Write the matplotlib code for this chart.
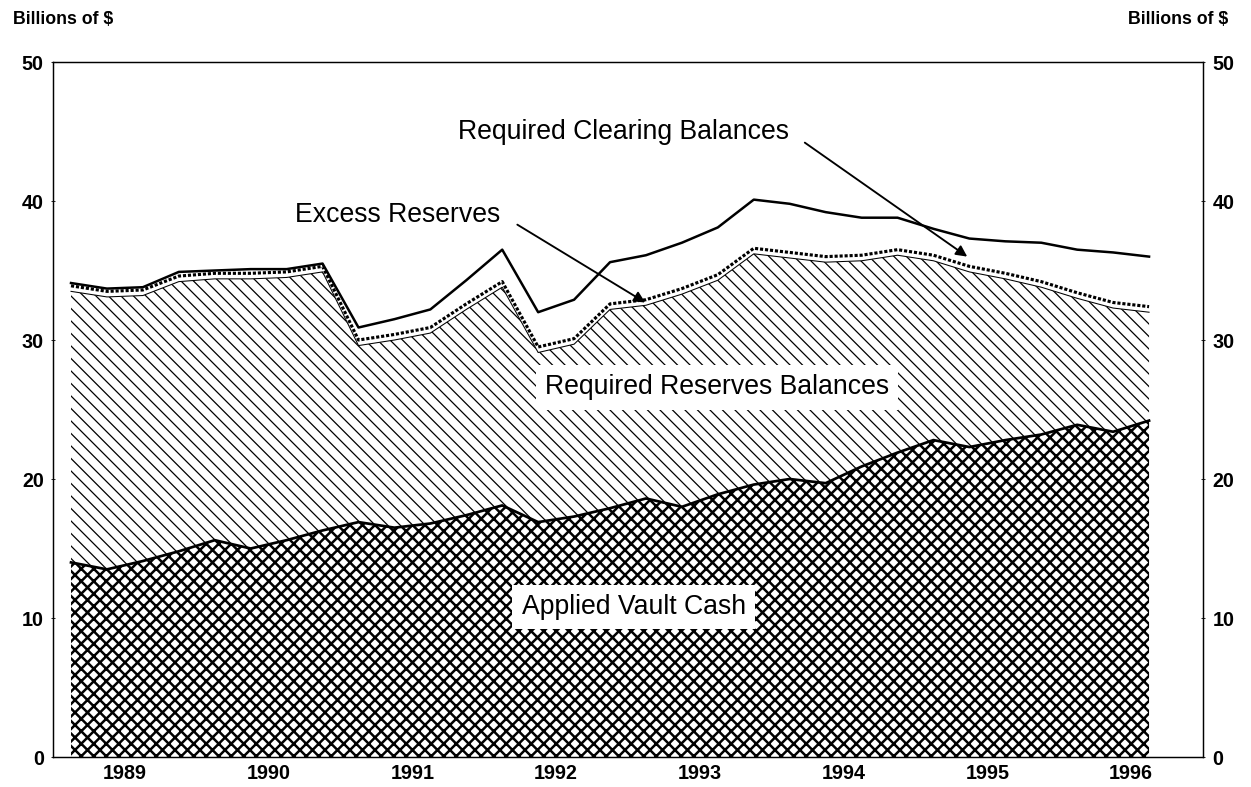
import numpy as np
import pandas as pd
import matplotlib
matplotlib.use("Agg")
import matplotlib as mpl
import matplotlib.pyplot as plt

plt.rcParams['font.family'] = ['Liberation Sans', 'DejaVu Sans']

# quarterly observations, 1988Q3 .. 1996Q1 (billions of $)
quarters = pd.period_range("1988Q3", "1996Q1", freq="Q")

vault_cash = [14.0, 13.5, 14.1, 14.8, 15.6, 15.0, 15.6, 16.3, 16.9, 16.5,
              16.8, 17.4, 18.1, 16.9, 17.3, 17.9, 18.6, 18.0, 18.9, 19.6,
              20.0, 19.7, 20.9, 21.9, 22.8, 22.3, 22.8, 23.2, 23.9, 23.4, 24.2]
required_reserves = [19.5, 19.6, 19.1, 19.4, 18.8, 19.4, 18.9, 18.6, 12.7, 13.5,
                     13.7, 14.8, 15.7, 12.2, 12.4, 14.3, 13.9, 15.3, 15.4, 16.6,
                     15.9, 15.9, 14.8, 14.2, 12.9, 12.6, 11.6, 10.6, 9.1, 8.9, 7.8]
excess_reserves = [0.4, 0.4, 0.4, 0.4, 0.4, 0.4, 0.4, 0.4, 0.4, 0.4,
                   0.4, 0.4, 0.4, 0.4, 0.4, 0.4, 0.4, 0.4, 0.4, 0.4,
                   0.4, 0.4, 0.4, 0.4, 0.4, 0.4, 0.4, 0.4, 0.4, 0.4, 0.4]
clearing_balances = [0.2, 0.2, 0.2, 0.3, 0.2, 0.3, 0.2, 0.2, 0.9, 1.1,
                     1.3, 1.7, 2.3, 2.5, 2.8, 3.0, 3.2, 3.3, 3.4, 3.5,
                     3.5, 3.2, 2.7, 2.3, 1.9, 2.0, 2.3, 2.8, 3.1, 3.6, 3.6]

year_ticks = [1989, 1990, 1991, 1992, 1993, 1994, 1995, 1996]
y_ticks = [0, 10, 20, 30, 40, 50]

# mid-quarter positions on a decimal-year axis
x = np.asarray(quarters.year) + (np.asarray(quarters.quarter) - 0.5) / 4

lvl_vault = np.array(vault_cash)
lvl_req = lvl_vault + np.array(required_reserves)
lvl_excess = lvl_req + np.array(excess_reserves)
lvl_total = lvl_excess + np.array(clearing_balances)

fig = plt.figure(figsize=(1251 / 75, 787 / 75), dpi=75)
ax = fig.add_axes([0.0424, 0.0381, 0.9192, 0.8831])


def hatched(y0, y1, pattern, hlw):
    with mpl.rc_context({'hatch.linewidth': hlw}):
        coll = ax.fill_between(x, y0, y1, facecolor='white', edgecolor='black',
                               hatch=pattern, linewidth=0)
    if hasattr(coll, 'set_hatch_linewidth'):
        coll.set_hatch_linewidth(hlw)
    return coll


hatched(0, lvl_vault, 'xx', 2.4)
hatched(lvl_vault, lvl_req, '\\\\', 1.2)
ax.fill_between(x, lvl_req, lvl_excess, facecolor='white', linewidth=0)

ax.plot(x, lvl_vault, color='black', lw=2.6, solid_joinstyle='round')
ax.plot(x, lvl_req, color='black', lw=1.0)
ax.plot(x, lvl_excess, color='black', lw=3.0, linestyle=(0, (1.0, 0.6)))
ax.plot(x, lvl_total, color='black', lw=2.4, solid_joinstyle='round')

ax.set_xlim(1988.5, 1996.5)
ax.set_ylim(0, 50)
ax.set_xticks(year_ticks)
ax.set_xticklabels([str(y) for y in year_ticks])
ax.set_yticks(y_ticks)
ax.tick_params(axis='x', length=0, pad=7, labelsize=19)
ax.tick_params(axis='y', length=4, direction='inout', labelsize=19,
               left=True, right=True, labelleft=True, labelright=True, pad=7)
for lab in ax.get_xticklabels() + ax.get_yticklabels():
    lab.set_fontweight('bold')
for sp in ax.spines.values():
    sp.set_linewidth(1.4)

fig.text(0.010, 0.975, "Billions of $", fontsize=17, fontweight='bold',
         ha='left', va='center')
fig.text(0.982, 0.975, "Billions of $", fontsize=17, fontweight='bold',
         ha='right', va='center')

lab_fs = 25.5
ax.text(1992.47, 44.96, "Required Clearing Balances", fontsize=lab_fs,
        ha='center', va='center')
ax.text(1990.90, 39.0, "Excess Reserves", fontsize=lab_fs,
        ha='center', va='center')
ax.text(1993.12, 26.6, "Required Reserves Balances", fontsize=lab_fs,
        ha='center', va='center',
        bbox=dict(facecolor='white', edgecolor='none', pad=9))
ax.text(1992.54, 10.8, "Applied Vault Cash", fontsize=lab_fs,
        ha='center', va='center',
        bbox=dict(facecolor='white', edgecolor='none', pad=9))

arrow = dict(arrowstyle='-|>', color='black', lw=1.8, mutation_scale=22,
             shrinkA=0, shrinkB=0)
ax.annotate("", xy=(1992.62, 32.7), xytext=(1991.73, 38.3), arrowprops=arrow)
ax.annotate("", xy=(1994.86, 36.0), xytext=(1993.73, 44.2), arrowprops=arrow)

fig.savefig("out.png", dpi=75)
